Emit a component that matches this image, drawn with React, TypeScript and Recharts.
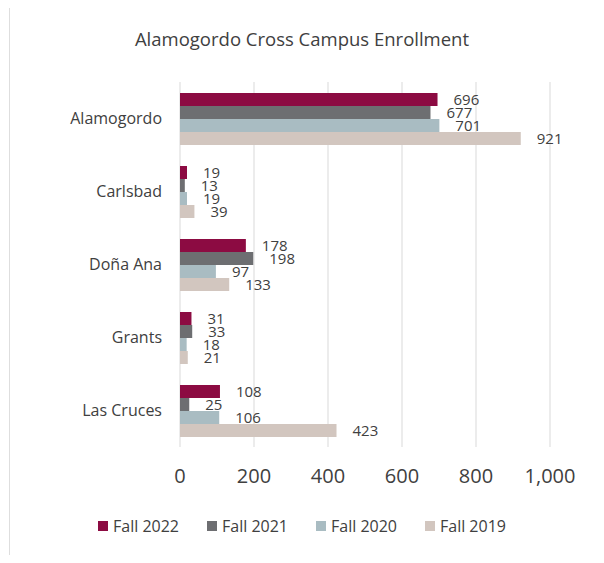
import {
  BarChart,
  Bar,
  XAxis,
  YAxis,
  CartesianGrid,
  LabelList,
} from "recharts";

const campuses = ["Alamogordo", "Carlsbad", "Doña Ana", "Grants", "Las Cruces"];
const fall2022 = [696, 19, 178, 31, 108];
const fall2021 = [677, 13, 198, 33, 25];
const fall2020 = [701, 19, 97, 18, 106];
const fall2019 = [921, 39, 133, 21, 423];
const xTicks = [0, 200, 400, 600, 800, 1000];

const data = campuses.map((campus, i) => ({
  campus,
  "Fall 2022": fall2022[i],
  "Fall 2021": fall2021[i],
  "Fall 2020": fall2020[i],
  "Fall 2019": fall2019[i],
}));

const series = [
  { key: "Fall 2022", color: "#8c0b42" },
  { key: "Fall 2021", color: "#6d6e71" },
  { key: "Fall 2020", color: "#a9bcc2" },
  { key: "Fall 2019", color: "#d2c6bf" },
];

const font = "'Open Sans', sans-serif";
const textColor = "#404040";

function LegendRow() {
  return (
    <div
      style={{
        position: "absolute",
        top: 515,
        left: 0,
        width: 604,
        display: "flex",
        justifyContent: "center",
        gap: 28,
        fontFamily: font,
        fontSize: 16,
        color: textColor,
      }}
    >
      {series.map((s) => (
        <span key={s.key} style={{ display: "flex", alignItems: "center" }}>
          <span
            style={{
              width: 10,
              height: 10,
              background: s.color,
              display: "inline-block",
              marginRight: 5,
            }}
          />
          {s.key}
        </span>
      ))}
    </div>
  );
}

export default function App() {
  return (
    <div
      style={{
        margin: -8,
        width: 604,
        height: 563,
        position: "relative",
        background: "#fff",
      }}
    >
      <div
        style={{
          position: "absolute",
          left: 9,
          top: 3,
          width: 590,
          height: 556,
          border: "1px solid #dedede",
          boxSizing: "border-box",
        }}
      />
      <div
        style={{
          position: "absolute",
          top: 26,
          left: 0,
          width: 604,
          textAlign: "center",
          fontFamily: font,
          fontSize: 18.5,
          color: textColor,
        }}
      >
        Alamogordo Cross Campus Enrollment
      </div>
      <BarChart
        width={604}
        height={563}
        data={data}
        layout="vertical"
        barSize={13}
        barGap={0}
        margin={{ top: 82, right: 54, bottom: 70, left: 0 }}
      >
        <CartesianGrid horizontal={false} stroke="#d9d9d9" />
        <XAxis
          type="number"
          domain={[0, 1000]}
          ticks={xTicks}
          tickFormatter={(v: number) => v.toLocaleString("en-US")}
          axisLine={false}
          tickLine={false}
          tickMargin={16}
          height={46}
          tick={{ fontSize: 20, fill: textColor, fontFamily: font }}
        />
        <YAxis
          type="category"
          dataKey="campus"
          width={180}
          axisLine={false}
          tickLine={false}
          tickMargin={12}
          tick={{ fontSize: 16, fill: textColor, fontFamily: font }}
        />
        {series.map((s) => (
          <Bar
            key={s.key}
            dataKey={s.key}
            fill={s.color}
            isAnimationActive={false}
          >
            <LabelList
              dataKey={s.key}
              position="right"
              offset={16}
              style={{ fontSize: 15, fill: textColor, fontFamily: font }}
            />
          </Bar>
        ))}
      </BarChart>
      <LegendRow />
    </div>
  );
}
